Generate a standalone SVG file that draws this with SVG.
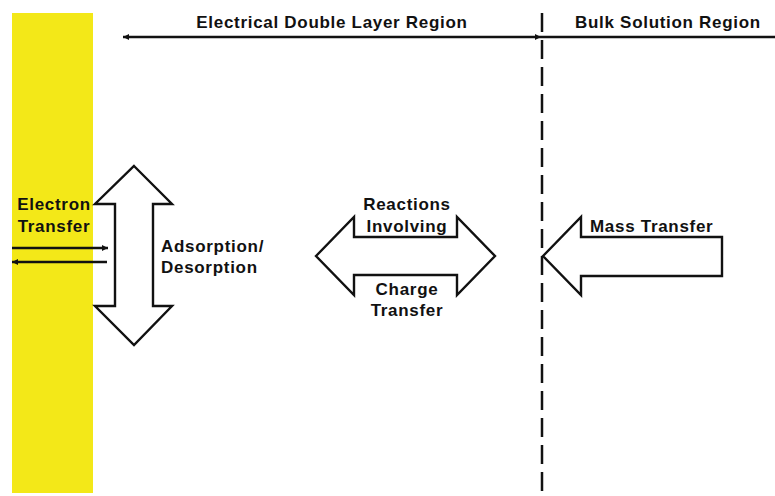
<svg xmlns="http://www.w3.org/2000/svg" width="775" height="496" viewBox="0 0 775 496">
<style>
text{font-family:"Liberation Sans",Arial,sans-serif;font-weight:bold;font-size:17px;letter-spacing:0.7px;fill:#111}
.shape{fill:#fff;stroke:#111;stroke-width:2.4;stroke-linejoin:miter}
.ln{stroke:#111;stroke-width:2.5;fill:none}
</style>
<defs>
<marker id="ah" viewBox="0 0 10 10" refX="10" refY="5" markerWidth="8" markerHeight="6" markerUnits="userSpaceOnUse" orient="auto-start-reverse">
<path d="M0,0 L10,5 L0,10 Z" fill="#111"/>
</marker>
</defs>
<rect id="electrode" x="12" y="13" width="81" height="480" fill="#f3e818"/>
<g id="connectors">
<line class="ln" x1="123" y1="37" x2="541" y2="37" marker-start="url(#ah)" marker-end="url(#ah)"/>
<line class="ln" x1="541" y1="37" x2="775" y2="37"/>
<line class="ln" x1="542" y1="13" x2="542" y2="496" stroke-dasharray="19 8"/>
<line class="ln" x1="12" y1="248" x2="108" y2="248" marker-end="url(#ah)"/>
<line class="ln" x1="107" y1="262" x2="12" y2="262" marker-end="url(#ah)"/>
</g>
<g id="labels-top">
<text x="332" y="28" text-anchor="middle">Electrical Double Layer Region</text>
<text x="668" y="28" text-anchor="middle">Bulk Solution Region</text>
</g>
<g id="electron-transfer">
<text x="54" y="210" text-anchor="middle">Electron</text>
<text x="54" y="232" text-anchor="middle">Transfer</text>
</g>
<g id="adsorption">
<path class="shape" d="M134,166 L172,204 L153,204 L153,306 L172,306 L134,345 L95,306 L115,306 L115,204 L95,204 Z"/>
<text x="161" y="252">Adsorption/</text>
<text x="161" y="273">Desorption</text>
</g>
<g id="charge-transfer">
<path class="shape" d="M316,256 L354,217 L354,237 L457,237 L457,217 L495,256 L457,295 L457,275 L354,275 L354,295 Z"/>
<text x="407" y="210" text-anchor="middle">Reactions</text>
<text x="407" y="232" text-anchor="middle">Involving</text>
<text x="407" y="295" text-anchor="middle">Charge</text>
<text x="407" y="316" text-anchor="middle">Transfer</text>
</g>
<g id="mass-transfer">
<path class="shape" d="M543,256 L581,217 L581,237 L722,237 L722,276 L581,276 L581,295 Z"/>
<text x="590" y="232">Mass Transfer</text>
</g>
</svg>
